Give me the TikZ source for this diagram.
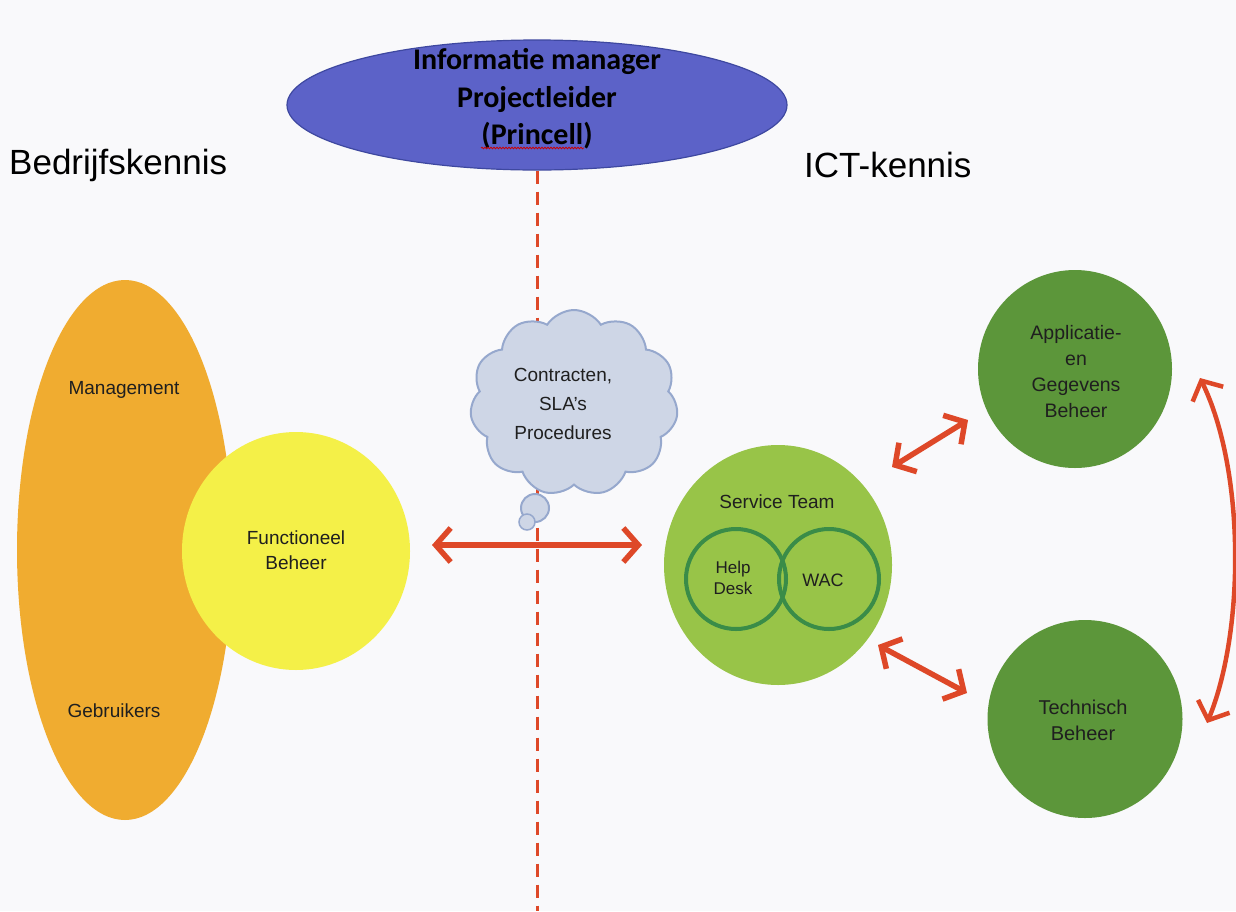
\documentclass[tikz,border=0pt]{standalone}
\usepackage{fontspec}
\setmainfont{Liberation Sans}
\newfontfamily\calib{Carlito}
\usetikzlibrary{shapes.geometric,shapes.symbols,arrows.meta,decorations.pathmorphing}
\definecolor{bgc}{RGB}{249,249,251}
\definecolor{topblue}{RGB}{92,98,200}
\definecolor{topedge}{RGB}{62,72,160}
\definecolor{orng}{RGB}{240,172,48}
\definecolor{yell}{RGB}{244,240,72}
\definecolor{lgreen}{RGB}{152,196,72}
\definecolor{dgreen}{RGB}{92,150,58}
\definecolor{ringg}{RGB}{58,140,72}
\definecolor{redc}{RGB}{222,72,40}
\definecolor{cloudf}{RGB}{206,214,230}
\definecolor{cloude}{RGB}{150,168,205}
\tikzset{
  lbl/.style={font=\fontsize{19}{23}\selectfont, align=center, text=black!88},
  disc/.style={ellipse, inner sep=0pt, draw=none},
  dbl/.style={redc, line width=5.5pt, {Straight Barb[length=15pt,width=34pt]}-{Straight Barb[length=15pt,width=34pt]}},
}
\begin{document}
\begin{tikzpicture}[x=1pt,y=-1pt]
\fill[bgc] (0,0) rectangle (1236,911);
\useasboundingbox (0,0) rectangle (1236,911);

% top ellipse
\node[ellipse, fill=topblue, draw=topedge, line width=1.2pt, minimum width=500pt, minimum height=130pt, inner sep=0pt] (top) at (537,105) {};
\node[font=\calib\bfseries\fontsize{30}{37.5}\selectfont, align=center] (toptxt) at (537,99) {Informatie manager\\Projectleider\\(Princell)};
\coordinate (wavyA) at (481,148);
\coordinate (wavyB) at (584,148);
\draw[red!80!black, line width=0.8pt, decorate, decoration={snake, amplitude=0.8pt, segment length=3pt}] (wavyA) -- (wavyB);

% dashed divider
\coordinate (bottomend) at (537,911);
\draw[redc, line width=3pt, dash pattern=on 13pt off 8pt] (top.south) -- (bottomend);

% headings
\node[font=\fontsize{35}{40}\selectfont, anchor=west, inner sep=0pt] (bk) at (9,165) {Bedrijfskennis};
\node[font=\fontsize{35}{40}\selectfont, anchor=west, inner sep=0pt] (ict) at (804,165) {ICT-kennis};

% left group
\node[ellipse, fill=orng, minimum width=216pt, minimum height=540pt, inner sep=0pt] (org) at (125,550) {};
\node[lbl] (mgmt) at (124,390) {Management};
\node[lbl] (gebr) at (114,711) {Gebruikers};
\node[disc, fill=yell, minimum width=228pt, minimum height=238pt] (fb) at (296,551) {};
\node[lbl, font=\fontsize{19}{25}\selectfont] (fbt) at (296,550) {Functioneel\\Beheer};

% cloud
\node[cloud, cloud puffs=11, cloud puff arc=115, aspect=1.1, fill=cloudf, draw=cloude, line width=2pt, minimum width=208pt, minimum height=186pt, inner sep=0pt] (cl) at (574,403) {};
\node[lbl, font=\fontsize{19}{29}\selectfont] (clt) at (563,404) {Contracten,\\SLA's\\Procedures};
\node[disc, fill=cloudf, draw=cloude, line width=2pt, minimum size=28pt] (b1) at (535,508) {};
\node[disc, fill=cloudf, draw=cloude, line width=1.5pt, minimum size=16pt] (b2) at (527,522) {};

% service team
\node[disc, fill=lgreen, minimum width=228pt, minimum height=240pt] (st) at (778,565) {};
\node[lbl] (stt) at (777,502) {Service Team};
\node[circle, draw=ringg, line width=4pt, minimum size=100pt, inner sep=0pt] (hd) at (736,579) {};
\node[circle, draw=ringg, line width=4pt, minimum size=100pt, inner sep=0pt] (wac) at (829,579) {};
\node[lbl, font=\fontsize{17}{21}\selectfont] (hdt) at (733,578) {Help\\Desk};
\node[lbl, font=\fontsize{18}{21}\selectfont] (wact) at (823,580) {WAC};

% right discs
\node[disc, fill=dgreen, minimum width=194pt, minimum height=198pt] (app) at (1075,369) {};
\node[lbl, font=\fontsize{19.5}{26}\selectfont] (appt) at (1076,372) {Applicatie-\\en\\Gegevens\\Beheer};
\node[disc, fill=dgreen, minimum width=195pt, minimum height=198pt] (tech) at (1085,719) {};
\node[lbl, font=\fontsize{20}{26}\selectfont] (techt) at (1083,720) {Technisch\\Beheer};

% arrows
\coordinate (hL) at (432,545);
\coordinate (hR) at (642,545);
\draw[dbl] (hL) -- (hR);
\coordinate (a1) at (892,467);
\coordinate (a2) at (968,420);
\draw[dbl] (a1) -- (a2);
\coordinate (c1) at (878,645);
\coordinate (c2) at (967,693);
\draw[dbl] (c1) -- (c2);
\coordinate (d1) at (1200,378);
\coordinate (d2) at (1207,723);
\draw[dbl, line width=4.5pt] (d1) .. controls (1245,470) and (1245,630) .. (d2);
\end{tikzpicture}
\end{document}
